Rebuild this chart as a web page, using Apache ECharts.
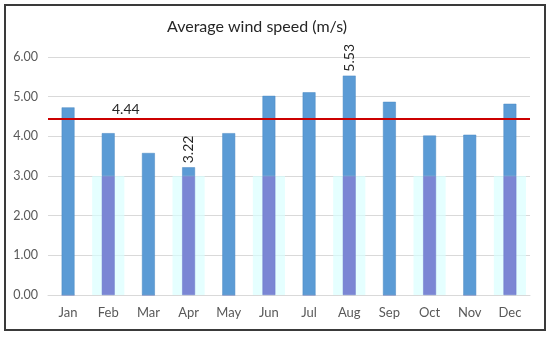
<!DOCTYPE html>
<html>
<head>
<meta charset="utf-8">
<script src="https://cdn.jsdelivr.net/npm/echarts@6/dist/echarts.min.js"></script>
<style>html,body{margin:0;padding:0;background:#fff;}#c{width:550px;height:337px;}</style>
</head>
<body>
<div id="c"></div>
<script>
const months = ['Jan','Feb','Mar','Apr','May','Jun','Jul','Aug','Sep','Oct','Nov','Dec'];
const windSpeed = [4.73, 4.08, 3.58, 3.22, 4.08, 5.02, 5.11, 5.53, 4.87, 4.02, 4.04, 4.82];
const bandLevel = 3.0;
const bandMonths = ['Feb','Apr','Jun','Aug','Oct','Dec'];
const labelledMonths = ['Apr','Aug'];
const averageSpeed = 4.44;
const yTicks = [0, 1, 2, 3, 4, 5, 6];

const isBand = months.map(m => bandMonths.includes(m));
const bandData = months.map((m, i) => isBand[i] ? bandLevel : null);
const lowerData = windSpeed.map((v, i) => isBand[i] ? Math.min(v, bandLevel) : 0);
const upperData = windSpeed.map((v, i) => v - lowerData[i]);

const font = 'Lato, "Open Sans", sans-serif';
const chart = echarts.init(document.getElementById('c'));
chart.setOption({
  animation: false,
  backgroundColor: '#fff',
  title: {
    text: 'Average wind speed (m/s)',
    left: 252, top: 14, textAlign: 'center',
    textStyle: {fontFamily: font, fontSize: 16, fontWeight: 'normal', color: '#262626'}
  },
  grid: {left: 48, right: 20, top: 57, bottom: 42},
  xAxis: [
    {type: 'category', data: months,
     axisLine: {lineStyle: {color: '#d9d9d9'}}, axisTick: {show: false},
     axisLabel: {fontFamily: font, fontSize: 13, color: '#595959', margin: 11}},
    {type: 'category', data: months, show: false}
  ],
  yAxis: {
    type: 'value', min: yTicks[0], max: yTicks[yTicks.length - 1], interval: 1,
    axisLine: {show: false}, axisTick: {show: false},
    splitLine: {lineStyle: {color: '#d9d9d9', width: 1}},
    axisLabel: {fontFamily: font, fontSize: 12.5, color: '#595959', margin: 10,
                formatter: v => v.toFixed(2)}
  },
  series: [
    {type: 'bar', xAxisIndex: 1, data: bandData, barWidth: '80%', z: 1,
     itemStyle: {color: 'rgba(215,255,255,0.65)'}, silent: true},
    {type: 'bar', xAxisIndex: 0, stack: 's', data: lowerData, barWidth: '32%', z: 3,
     itemStyle: {color: '#7B86D4', borderColor: '#6D79C8', borderWidth: 0.5}},
    {type: 'bar', xAxisIndex: 0, stack: 's', data: upperData, barWidth: '32%', z: 3,
     itemStyle: {color: '#5B9BD5', borderColor: '#4A88C2', borderWidth: 0.5},
     label: {show: true, position: 'top', rotate: 90, align: 'left', verticalAlign: 'middle',
             distance: 4, fontFamily: font, fontSize: 14, color: '#262626',
             formatter: p => labelledMonths.includes(months[p.dataIndex]) ? windSpeed[p.dataIndex].toFixed(2) : ''},
     markLine: {
       silent: true, symbol: 'none',
       lineStyle: {color: '#CC0000', width: 2, type: 'solid'},
       label: {show: true, position: 'insideStartTop', fontFamily: font, fontSize: 14,
               color: '#262626', padding: [0, 0, 0, 62], distance: 2,
               formatter: p => p.value.toFixed(2)},
       data: [{yAxis: averageSpeed}]
     }}
  ],
  graphic: [
    {type: 'rect', shape: {x: 5, y: 5, width: 540, height: 325},
     style: {fill: 'none', stroke: '#3a3a3a', lineWidth: 2}, z: 100}
  ]
});
</script>
</body>
</html>
